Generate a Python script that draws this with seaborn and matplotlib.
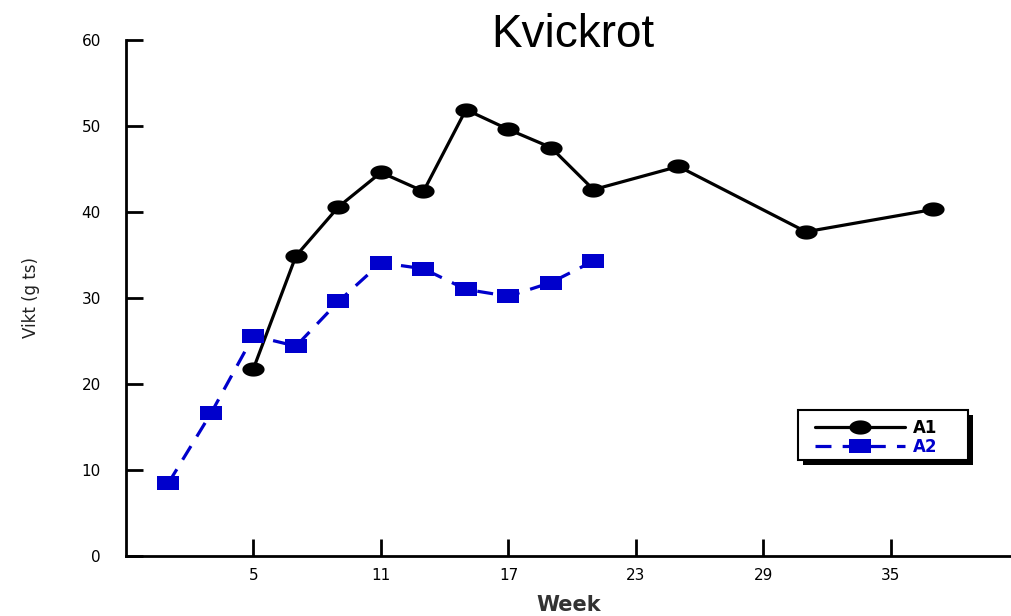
import numpy as np
import matplotlib
matplotlib.use("Agg")
import matplotlib.pyplot as plt
from matplotlib.patches import Rectangle
import seaborn as sns

# Data
weeks_a1 = [5, 7, 9, 11, 13, 15, 17, 19, 21, 25, 31, 37]
vikt_a1 = [21.8, 34.9, 40.6, 44.6, 42.4, 51.9, 49.6, 47.5, 42.6, 45.3, 37.7, 40.3]
weeks_a2 = [1, 3, 5, 7, 9, 11, 13, 15, 17, 19, 21]
vikt_a2 = [8.5, 16.6, 25.6, 24.4, 29.6, 34.1, 33.4, 31.0, 30.2, 31.8, 34.3]
xticks = [5, 11, 17, 23, 29, 35]
yticks = [0, 10, 20, 30, 40, 50, 60]
title = "Kvickrot"
xlabel = "Week"
ylabel = "Vikt (g ts)"

sns.set_theme(style="white")
plt.rcParams['font.family'] = ['DejaVu Sans']

fig = plt.figure(figsize=(10.11, 6.16), dpi=100)
ax = fig.add_axes([126/1011, 60/616, 1 - 126/1011, 516/616])

t = np.linspace(0, 2*np.pi, 40)
ellipse = list(zip(np.cos(t), 0.64*np.sin(t)))
rect = [(-1, -0.64), (1, -0.64), (1, 0.64), (-1, 0.64), (-1, -0.64)]

blue = "#0000CC"
sns.lineplot(x=weeks_a1, y=vikt_a1, ax=ax, color="black", linewidth=2.3,
             marker=ellipse, markersize=16, markeredgewidth=0, label="A1")
sns.lineplot(x=weeks_a2, y=vikt_a2, ax=ax, color=blue, linewidth=2.3,
             linestyle=(0, (5, 3.5)), marker=rect, markersize=16,
             markeredgewidth=0, label="A2")

ax.set_xlim(-1, 40.65)
ax.set_ylim(0, 60)
ax.set_xticks(xticks)
ax.set_yticks(yticks)
ax.tick_params(axis='both', direction='in', length=12, width=2, colors='black',
               labelsize=11, left=True, bottom=True)
ax.tick_params(axis='x', pad=9)
ax.tick_params(axis='y', pad=18)
for s in ['top', 'right']:
    ax.spines[s].set_visible(False)
for s in ['left', 'bottom']:
    ax.spines[s].set_color('black')
    ax.spines[s].set_linewidth(2)
ax.grid(False)

ax.set_xlabel(xlabel, fontsize=15, fontweight='bold', color='#333333', labelpad=8)
ax.set_ylabel(ylabel, fontsize=12, color='#222222', labelpad=30)
fig.text(573/1011, 1 - 35/616, title, ha='center', va='center', fontsize=33,
         family='Liberation Sans', color='black')

# Legend box with drop shadow
bx, by, bw, bh = 0.7593, 0.186, 0.1921, 0.0969
shadow = Rectangle((bx + 0.0057, by - 0.0097), bw, bh, transform=ax.transAxes,
                   facecolor='black', edgecolor='none', zorder=4)
box = Rectangle((bx, by), bw, bh, transform=ax.transAxes,
                facecolor='white', edgecolor='black', linewidth=1.5, zorder=5)
ax.add_patch(shadow)
ax.add_patch(box)

leg = ax.legend(loc='upper left', bbox_to_anchor=(0.7785, 0.266), frameon=False,
                handlelength=5.4, fontsize=12, borderpad=0, labelspacing=0.05,
                handletextpad=0.5, borderaxespad=0)
leg.set_zorder(6)
for txt, c in zip(leg.get_texts(), ['black', blue]):
    txt.set_color(c)
    txt.set_fontweight('bold')

fig.savefig("out.png", dpi=100)
